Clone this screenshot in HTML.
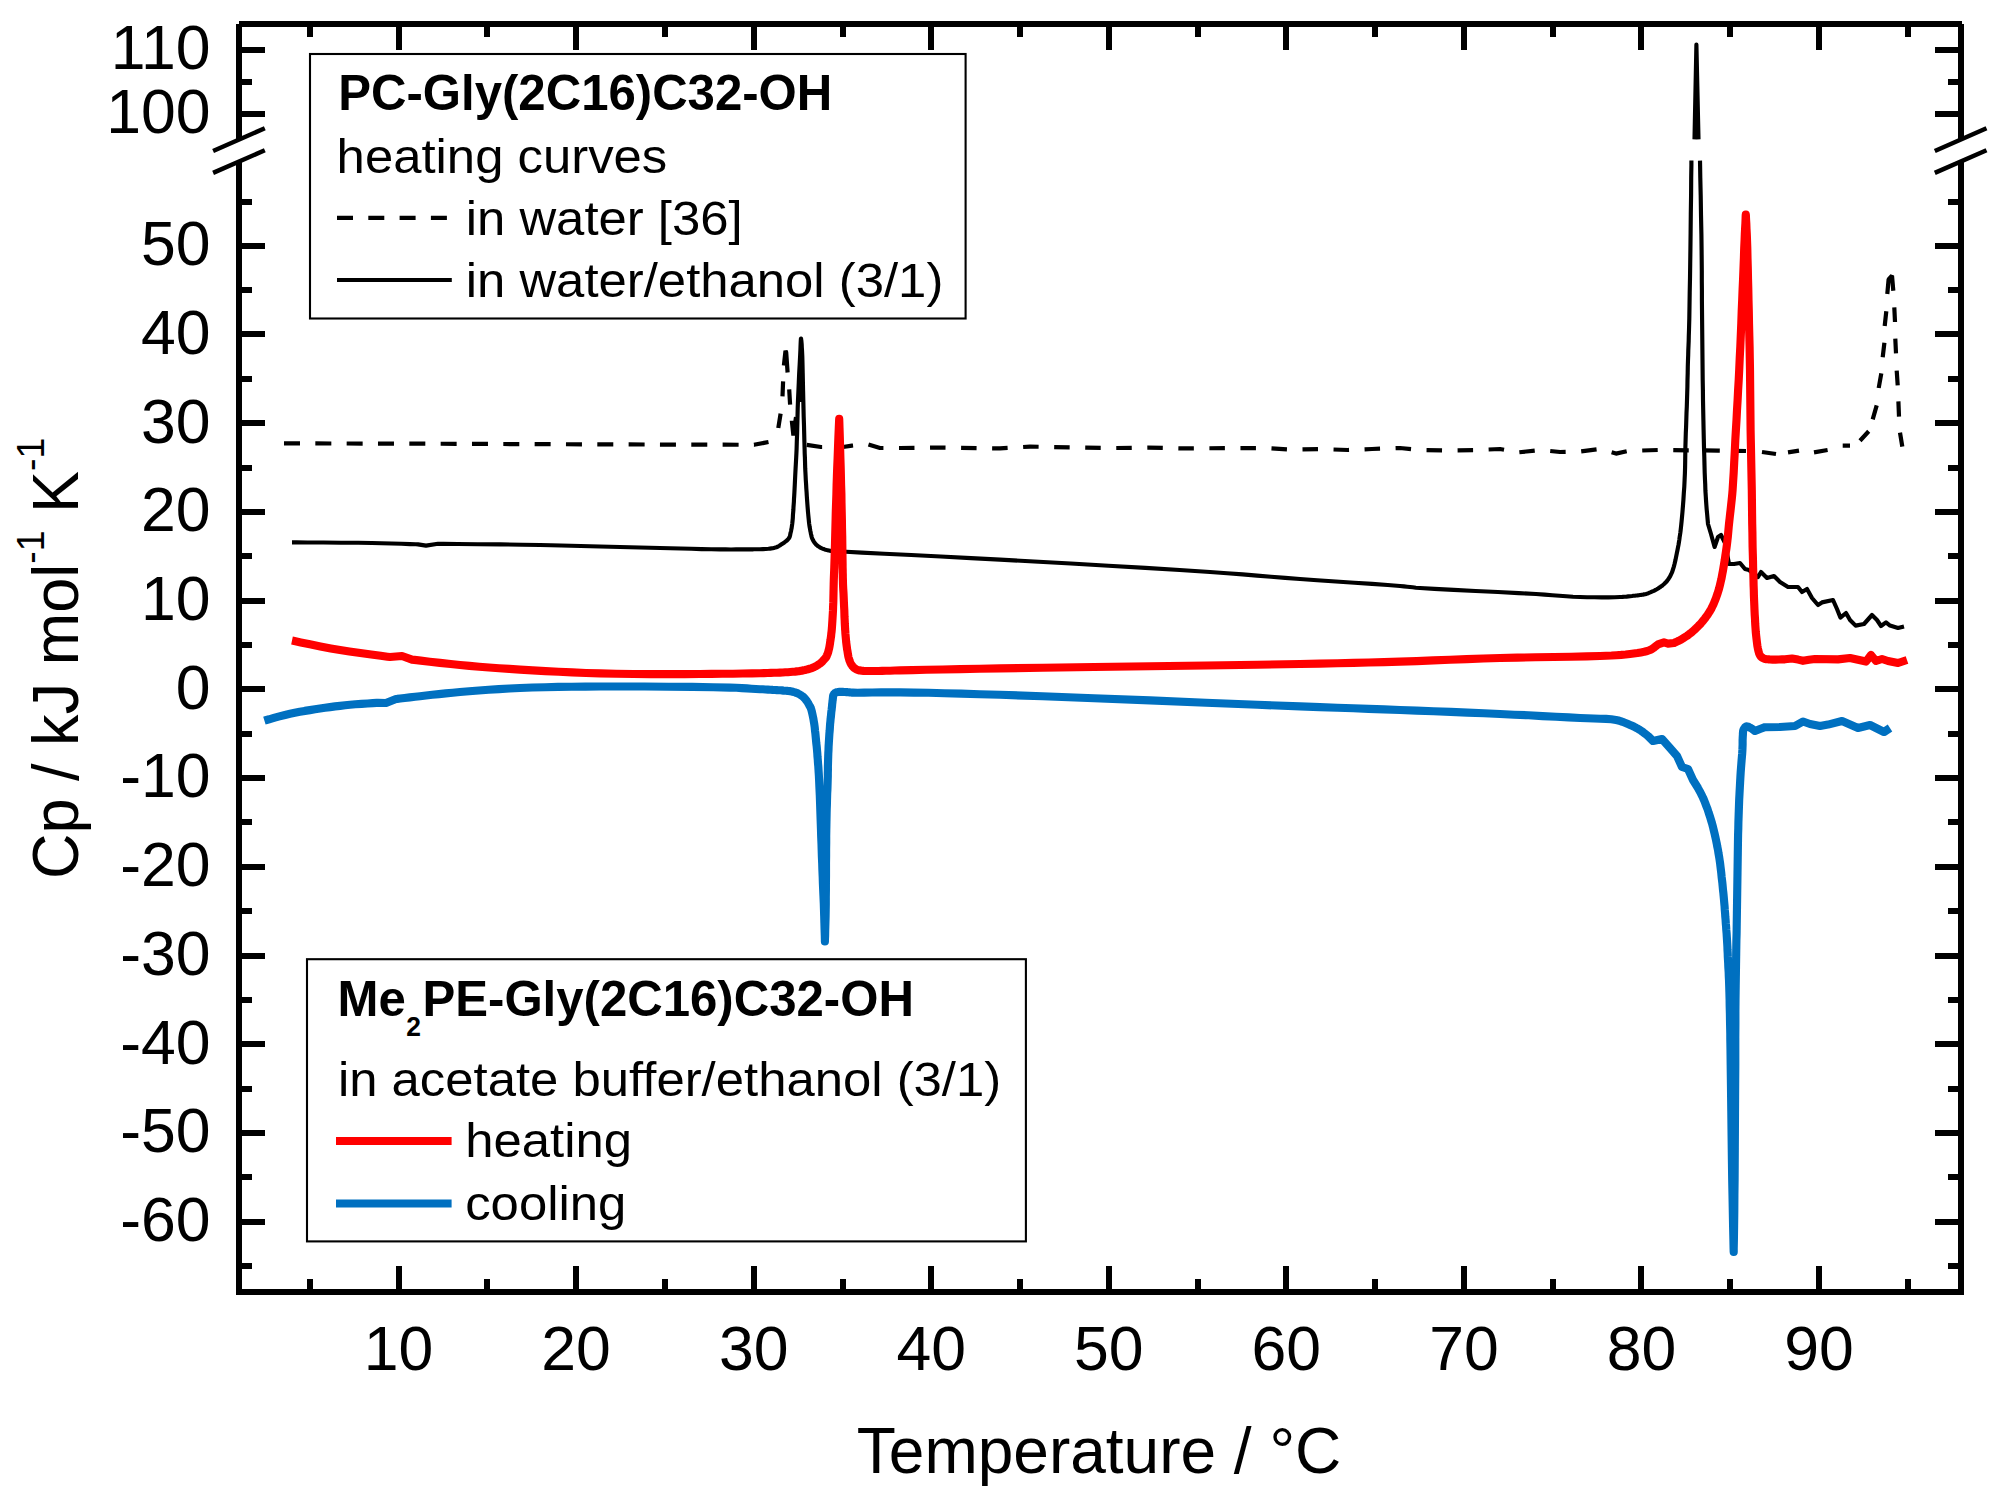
<!DOCTYPE html>
<html><head><meta charset="utf-8"><title>DSC heating and cooling curves</title>
<style>
html,body{margin:0;padding:0;background:#fff}
svg{display:block}
text{font-family:"Liberation Sans",Arial,sans-serif;fill:#000}
.tk{font-size:63.4px}
.lg{font-size:48.9px}
.b{font-weight:bold;font-size:50.2px}
</style></head><body>
<svg width="1998" height="1500" viewBox="0 0 1998 1500">
<rect width="1998" height="1500" fill="#fff"/>
<g fill="none" stroke-linejoin="round" stroke-linecap="butt">
<polyline points="284.0,443.4 400.0,443.6 600.0,444.4 754.0,444.8 768.5,442.0" stroke="#000" stroke-width="4.2" stroke-dasharray="16 15.33"/>
<polyline points="806.8,444.8 821.0,447.0 843.0,447.0 852.0,445.6 867.0,444.0 880.0,448.0 900.0,448.0 940.0,447.6 1000.0,448.4 1030.0,446.6 1086.0,447.6 1116.0,448.0 1148.0,447.6 1180.0,448.4 1264.0,448.0 1290.0,449.6 1320.0,449.0 1348.0,450.0 1372.0,449.0 1400.0,448.0 1420.0,450.0 1450.0,450.4 1476.0,450.0 1500.0,449.0 1518.0,452.4 1540.0,450.0 1560.0,452.0 1580.0,451.5 1600.0,449.0 1616.0,453.6 1628.0,451.0 1658.0,450.0 1718.0,450.6 1746.0,451.0" stroke="#000" stroke-width="4.2" stroke-dasharray="15.5 15.55"/>
<path d="M778.3,428.0 L780.6,413.6 M782.5,396.3 L783.1,381.4 M783.9,365.5 L785.5,350.7 L786.2,352.4 L787.6,372.5 M789.2,389.3 L790.1,404.7 M791.8,420.6 L793.4,435.5 L796.0,417.0 M1762.0,452.0 L1776.0,454.0 M1788.0,452.4 L1799.0,450.6 M1814.0,452.4 L1827.6,450.0 M1842.7,445.7 L1850.0,445.7 M1860.0,440.7 L1868.7,431.3 M1872.7,419.3 L1876.7,405.3 M1878.7,388.0 L1881.3,373.3 M1882.7,357.3 L1884.4,342.7 M1884.7,326.0 L1886.3,311.3 M1887.3,294.0 L1888.6,279.5 L1892.0,275.6 L1893.3,290.7 M1894.3,307.3 L1895.0,322.0 M1895.3,338.7 L1896.0,353.3 M1896.7,370.7 L1897.7,385.3 M1898.4,401.3 L1899.0,416.7 M1900.0,432.7 L1902.3,446.7" stroke="#000" stroke-width="4.2" stroke-linejoin="bevel"/>
<polyline points="292.0,542.4 296.3,542.4 307.6,542.5 323.4,542.5 341.0,542.7 358.1,542.8 372.0,543.0 381.5,543.2 391.7,543.5 401.5,543.8 409.9,544.1 415.8,544.3 418.0,544.4 426.0,545.6 438.0,543.8 443.5,543.9 457.9,544.0 477.9,544.2 500.4,544.4 522.2,544.7 540.0,545.0 550.9,545.2 561.2,545.5 571.0,545.7 580.6,546.0 590.2,546.2 600.0,546.5 610.0,546.8 620.0,547.0 630.0,547.3 640.0,547.5 650.0,547.8 660.0,548.0 670.2,548.3 680.8,548.5 691.3,548.8 701.5,549.1 711.2,549.3 720.0,549.4 725.7,549.4 731.0,549.5 736.1,549.4 740.9,549.4 745.5,549.4 750.0,549.3 753.4,549.3 756.7,549.2 760.0,549.2 763.0,549.1 765.8,549.0 768.4,548.8 770.0,548.6 771.4,548.4 772.7,548.2 774.0,547.9 775.2,547.6 776.4,547.2 777.4,546.8 778.4,546.3 779.3,545.8 780.2,545.2 781.1,544.6 782.0,544.0 783.2,543.2 784.4,542.4 785.7,541.4 786.9,540.5 787.9,539.5 788.8,538.4 789.4,537.4 789.8,536.4 790.1,535.3 790.3,534.2 790.5,533.1 790.8,532.0 791.1,530.7 791.3,529.5 791.6,528.2 791.8,526.8 792.0,525.4 792.2,524.0 792.4,522.2 792.6,520.2 792.8,518.3 792.9,516.2 793.0,514.1 793.2,512.0 793.4,509.5 793.5,507.0 793.7,504.3 793.9,501.7 794.0,498.9 794.2,496.0 794.4,492.3 794.6,488.3 794.8,484.3 795.0,480.1 795.2,476.0 795.4,472.0 795.6,468.2 795.8,464.6 796.0,461.0 796.2,457.3 796.4,453.3 796.6,449.0 796.8,441.9 797.1,434.0 797.3,425.7 797.5,417.0 797.7,408.4 798.0,400.0 798.4,391.3 798.8,382.1 799.2,372.8 799.7,364.1 800.1,356.3 800.4,350.0 800.5,347.3 800.6,344.7 800.7,342.3 800.8,340.3 800.9,339.0 801.0,338.5 801.1,339.0 801.3,340.3 801.5,342.3 801.7,344.7 801.8,347.3 802.0,350.0 802.3,356.3 802.5,364.1 802.7,372.8 802.9,382.1 803.1,391.3 803.3,400.0 803.5,408.4 803.7,417.0 804.0,425.7 804.2,434.0 804.4,441.9 804.6,449.0 804.7,453.3 804.9,457.3 805.0,461.0 805.1,464.6 805.2,468.2 805.4,472.0 805.6,476.0 805.8,480.1 806.1,484.3 806.3,488.3 806.6,492.3 806.8,496.0 807.0,498.9 807.2,501.7 807.4,504.3 807.6,507.0 807.8,509.5 808.0,512.0 808.2,514.1 808.4,516.2 808.6,518.3 808.8,520.2 809.0,522.2 809.2,524.0 809.4,525.4 809.6,526.8 809.9,528.2 810.1,529.5 810.3,530.7 810.6,532.0 810.8,533.1 811.0,534.2 811.3,535.3 811.5,536.4 811.8,537.4 812.2,538.4 812.6,539.4 813.1,540.4 813.7,541.4 814.3,542.3 814.9,543.2 815.6,544.0 816.3,544.7 817.0,545.4 817.8,546.0 818.7,546.6 819.5,547.1 820.4,547.6 821.4,548.1 822.5,548.6 823.6,549.0 824.7,549.4 825.7,549.7 826.8,550.0 827.7,550.2 828.5,550.4 829.3,550.6 830.1,550.7 831.0,550.9 832.0,551.0 833.8,551.2 835.6,551.3 837.6,551.4 840.0,551.5 842.7,551.6 846.0,551.8 861.8,552.6 884.2,553.7 911.2,555.0 940.8,556.5 971.0,558.1 1000.0,559.6 1034.1,561.5 1070.8,563.5 1108.5,565.7 1145.3,567.9 1179.7,570.0 1210.0,572.0 1227.1,573.2 1242.6,574.4 1257.1,575.6 1271.0,576.7 1285.2,577.9 1300.0,579.0 1317.2,580.2 1335.8,581.5 1354.4,582.7 1372.1,583.9 1387.7,585.0 1400.0,586.0 1404.0,586.4 1407.2,586.7 1409.9,587.0 1412.7,587.3 1415.9,587.7 1420.0,588.0 1434.4,588.9 1453.6,589.9 1475.5,591.0 1497.9,592.0 1518.7,593.1 1536.0,594.0 1544.6,594.6 1552.3,595.2 1559.4,595.7 1566.3,596.2 1573.0,596.7 1580.0,597.0 1587.0,597.2 1594.3,597.3 1601.6,597.3 1608.5,597.3 1614.7,597.2 1620.0,597.0 1622.4,596.9 1624.6,596.7 1626.6,596.6 1628.4,596.4 1630.2,596.2 1632.0,596.0 1633.4,595.8 1634.8,595.7 1636.2,595.5 1637.5,595.4 1638.8,595.2 1640.0,595.0 1641.0,594.9 1642.1,594.7 1643.0,594.6 1644.0,594.4 1645.0,594.3 1646.0,594.0 1647.2,593.6 1648.4,593.2 1649.6,592.7 1650.8,592.2 1651.9,591.7 1653.0,591.2 1653.9,590.8 1654.7,590.4 1655.6,589.9 1656.4,589.5 1657.2,589.0 1658.0,588.5 1658.9,587.9 1659.9,587.3 1660.8,586.6 1661.7,586.0 1662.6,585.3 1663.5,584.5 1664.4,583.7 1665.3,582.8 1666.1,582.0 1667.0,581.0 1667.7,580.1 1668.5,579.0 1669.3,577.7 1670.1,576.4 1670.8,574.9 1671.5,573.4 1672.2,571.8 1672.8,570.0 1673.7,567.1 1674.6,563.8 1675.4,560.3 1676.1,556.8 1676.8,553.3 1677.5,550.0 1678.0,547.4 1678.5,544.9 1678.9,542.4 1679.3,540.0 1679.6,537.5 1680.0,535.0 1680.4,532.3 1680.7,529.7 1681.0,527.0 1681.3,524.2 1681.6,521.2 1681.9,518.0 1682.4,512.6 1682.9,506.5 1683.4,500.0 1683.8,493.3 1684.3,486.6 1684.6,480.0 1684.9,473.4 1685.1,466.7 1685.2,460.1 1685.3,453.4 1685.4,446.7 1685.6,440.0 1685.8,433.3 1686.1,426.7 1686.3,420.0 1686.5,413.3 1686.8,406.7 1687.0,400.0 1687.2,393.3 1687.4,386.5 1687.5,379.6 1687.7,372.9 1687.8,366.3 1688.0,360.0 1688.2,354.9 1688.3,350.2 1688.5,345.6 1688.7,340.9 1688.8,335.8 1689.0,330.0 1689.3,318.9 1689.5,306.3 1689.7,292.7 1690.0,278.4 1690.2,264.0 1690.4,250.0 1690.6,233.3 1690.8,213.9 1691.1,194.4 1691.2,177.3 1691.4,165.2 1691.4,160.6" stroke="#000" stroke-width="4.15"/>
<path d="M800.6,402 L801,341" stroke="#000" stroke-width="3"/>
<polyline points="1700.0,160.6 1700.1,165.4 1700.3,177.8 1700.7,195.2 1701.0,214.9 1701.4,234.1 1701.6,250.0 1701.7,260.7 1701.8,270.9 1701.8,280.7 1701.9,290.4 1701.9,300.1 1702.0,310.0 1702.1,320.0 1702.2,330.0 1702.3,340.0 1702.4,350.0 1702.5,360.0 1702.6,370.0 1702.7,380.1 1702.9,390.2 1703.0,400.3 1703.2,410.4 1703.4,420.3 1703.6,430.0 1703.8,438.9 1704.0,447.8 1704.3,456.7 1704.5,465.2 1704.7,473.0 1705.0,480.0 1705.2,483.8 1705.3,487.3 1705.4,490.5 1705.6,493.5 1705.8,496.7 1706.0,500.0 1706.3,504.4 1706.7,509.6 1707.2,514.9 1707.6,519.5 1707.9,522.8 1708.0,524.0 1711.0,534.0 1714.6,547.0 1718.0,537.0 1721.0,535.0 1725.0,543.0 1729.0,564.0 1734.0,564.0 1740.0,563.0 1745.0,569.0 1749.0,570.0 1758.0,577.0 1761.0,572.0 1767.0,578.0 1774.0,576.0 1780.0,582.0 1788.0,587.0 1798.0,587.0 1802.0,592.0 1807.0,589.0 1812.0,598.0 1818.0,605.0 1822.0,602.4 1833.0,600.0 1837.0,609.0 1840.4,617.6 1846.0,613.0 1850.0,620.0 1855.6,625.6 1864.0,624.0 1872.0,615.0 1877.0,620.0 1881.0,626.0 1886.0,622.4 1890.0,625.6 1898.0,628.0 1904.0,626.4" stroke="#000" stroke-width="4.15"/>
<polyline points="1694.5,139.4 1696.4,44.6 1698.5,139.4" stroke="#000" stroke-width="4.15" stroke-linejoin="round"/>
<polyline points="292.0,640.6 294.4,641.1 300.8,642.4 309.9,644.3 320.4,646.4 330.8,648.4 340.0,650.0 349.4,651.5 360.3,653.0 371.2,654.5 380.7,655.8 387.4,656.7 390.0,657.0 402.0,656.0 412.0,659.6 414.4,659.9 420.7,660.6 429.7,661.7 440.0,662.9 450.6,664.0 460.0,665.0 469.5,665.9 479.2,666.7 489.0,667.5 499.1,668.2 509.4,668.9 520.0,669.6 532.6,670.4 545.5,671.1 558.7,671.8 572.2,672.4 586.0,673.0 600.0,673.4 616.3,673.7 633.4,674.0 650.9,674.1 668.1,674.1 684.7,674.1 700.0,674.0 711.3,673.9 722.3,673.8 733.0,673.7 742.9,673.5 752.0,673.4 760.0,673.2 764.0,673.1 767.6,673.0 770.9,672.9 773.9,672.8 777.0,672.7 780.0,672.6 782.7,672.5 785.3,672.3 787.8,672.2 790.3,672.0 792.7,671.8 795.0,671.6 796.8,671.4 798.5,671.2 800.2,670.9 801.8,670.7 803.4,670.3 805.0,670.0 806.5,669.6 808.0,669.2 809.5,668.8 810.9,668.4 812.4,667.9 813.7,667.3 814.9,666.7 816.1,666.1 817.2,665.4 818.3,664.7 819.3,664.0 820.3,663.3 821.1,662.7 821.8,662.0 822.5,661.3 823.1,660.6 823.7,659.9 824.3,659.3 824.7,658.8 825.1,658.4 825.5,658.0 825.8,657.5 826.2,657.1 826.5,656.5 826.9,655.6 827.3,654.6 827.7,653.5 828.1,652.4 828.4,651.2 828.7,650.0 829.1,648.5 829.4,646.9 829.7,645.2 830.0,643.5 830.2,641.8 830.5,640.0 830.8,637.9 831.1,635.8 831.3,633.6 831.6,631.4 831.8,629.1 832.0,626.7 832.2,623.6 832.4,620.4 832.6,617.1 832.8,613.7 833.0,610.2 833.1,606.7 833.3,602.4 833.4,597.8 833.5,593.2 833.6,588.5 833.7,584.1 833.8,580.0 833.9,577.2 834.0,574.7 834.1,572.2 834.2,569.8 834.3,567.1 834.4,564.0 834.6,558.0 834.8,551.1 835.0,543.6 835.2,535.7 835.4,527.8 835.6,520.0 835.8,511.6 836.1,502.9 836.4,494.2 836.6,485.4 836.9,476.6 837.2,468.0 837.6,458.6 838.0,447.9 838.4,437.2 838.8,427.9 839.1,421.3 839.2,418.8 839.3,421.3 839.5,427.9 839.8,437.2 840.1,447.9 840.4,458.6 840.7,468.0 840.9,476.6 841.1,485.4 841.4,494.2 841.5,502.9 841.7,511.6 841.9,520.0 842.0,527.8 842.2,535.7 842.3,543.6 842.4,551.1 842.5,558.0 842.6,564.0 842.6,567.1 842.7,569.8 842.7,572.2 842.8,574.7 842.8,577.2 842.9,580.0 843.0,584.1 843.2,588.5 843.5,593.2 843.7,597.8 843.9,602.4 844.1,606.7 844.3,610.2 844.4,613.7 844.5,617.1 844.7,620.4 844.8,623.6 845.0,626.7 845.1,629.1 845.3,631.3 845.4,633.5 845.6,635.7 845.8,637.8 846.0,640.0 846.2,642.3 846.5,644.6 846.8,646.9 847.1,649.2 847.5,651.3 847.8,653.3 848.0,654.6 848.2,655.7 848.4,656.8 848.7,657.9 849.0,658.9 849.3,660.0 849.7,661.1 850.1,662.1 850.6,663.2 851.1,664.2 851.7,665.1 852.3,666.0 852.9,666.7 853.5,667.3 854.1,667.9 854.8,668.4 855.6,668.9 856.3,669.3 857.1,669.7 857.9,670.0 858.8,670.2 859.7,670.4 860.6,670.5 861.7,670.7 863.5,670.9 865.5,671.0 867.7,671.0 870.0,671.0 872.5,671.0 875.0,671.0 878.5,671.0 882.1,670.9 886.0,670.8 890.1,670.7 894.8,670.5 900.0,670.4 912.2,670.1 926.4,669.8 942.5,669.5 960.2,669.1 979.5,668.8 1000.0,668.4 1042.6,667.7 1094.0,667.0 1150.0,666.3 1206.0,665.5 1257.4,664.7 1300.0,664.0 1319.8,663.6 1337.3,663.2 1353.4,662.9 1368.7,662.5 1384.0,662.1 1400.0,661.6 1416.7,661.1 1433.3,660.4 1450.0,659.8 1466.7,659.1 1483.3,658.5 1500.0,658.0 1517.3,657.6 1535.5,657.3 1553.7,657.0 1571.0,656.8 1586.7,656.4 1600.0,656.0 1606.1,655.7 1611.5,655.5 1616.5,655.2 1621.1,654.9 1625.6,654.5 1630.0,654.0 1633.7,653.5 1637.4,653.0 1640.9,652.4 1644.2,651.8 1647.3,651.0 1650.0,650.0 1651.8,649.1 1653.6,647.9 1655.3,646.6 1656.7,645.5 1657.6,644.7 1658.0,644.4 1664.0,642.4 1668.0,643.6 1674.0,643.0 1674.4,642.8 1675.5,642.3 1677.0,641.6 1678.7,640.8 1680.5,639.9 1682.0,639.0 1683.6,638.0 1685.3,636.9 1687.0,635.8 1688.7,634.6 1690.4,633.3 1692.0,632.0 1693.7,630.5 1695.5,628.9 1697.2,627.2 1698.8,625.5 1700.5,623.8 1702.0,622.0 1703.5,620.3 1704.9,618.5 1706.2,616.7 1707.6,614.8 1708.8,612.9 1710.0,611.0 1711.2,608.9 1712.2,606.8 1713.3,604.7 1714.2,602.5 1715.1,600.2 1716.0,598.0 1716.8,595.7 1717.6,593.4 1718.3,591.1 1719.0,588.8 1719.6,586.4 1720.2,584.0 1720.8,581.4 1721.4,578.9 1721.9,576.3 1722.4,573.6 1722.9,570.9 1723.4,568.0 1724.0,564.3 1724.7,560.3 1725.3,556.2 1725.9,552.0 1726.5,547.9 1727.0,544.0 1727.4,540.5 1727.8,537.1 1728.1,533.8 1728.4,530.4 1728.7,527.2 1729.0,524.0 1729.3,521.2 1729.6,518.6 1729.9,515.9 1730.2,513.3 1730.5,510.7 1730.8,508.0 1731.1,505.2 1731.4,502.5 1731.7,499.7 1732.0,496.8 1732.3,493.6 1732.6,490.0 1733.1,482.0 1733.7,472.6 1734.2,462.2 1734.8,451.3 1735.3,440.4 1735.9,430.0 1736.5,420.1 1737.0,410.2 1737.6,400.3 1738.1,390.3 1738.7,380.3 1739.2,370.0 1739.7,358.6 1740.3,346.9 1740.8,335.0 1741.3,323.1 1741.7,311.4 1742.2,300.0 1742.6,289.4 1743.1,278.7 1743.5,268.1 1743.9,258.0 1744.2,248.5 1744.6,240.0 1744.8,234.5 1745.1,228.8 1745.4,223.4 1745.6,218.8 1745.7,215.7 1745.8,214.5 1745.9,215.7 1746.0,218.8 1746.3,223.4 1746.5,228.8 1746.8,234.5 1747.0,240.0 1747.3,248.5 1747.5,258.0 1747.8,268.1 1748.0,278.7 1748.3,289.4 1748.5,300.0 1748.8,311.4 1749.0,323.1 1749.3,335.0 1749.6,346.9 1749.8,358.6 1750.0,370.0 1750.1,380.3 1750.2,390.3 1750.3,400.3 1750.4,410.2 1750.5,420.1 1750.6,430.0 1750.8,440.1 1751.0,450.2 1751.2,460.3 1751.4,470.4 1751.6,480.3 1751.8,490.0 1751.9,498.7 1752.0,507.2 1752.1,515.6 1752.2,523.9 1752.4,532.0 1752.5,540.0 1752.6,547.0 1752.8,553.9 1753.0,560.6 1753.1,567.3 1753.3,573.7 1753.5,580.0 1753.6,585.3 1753.8,590.4 1753.9,595.4 1754.1,600.3 1754.3,605.2 1754.5,610.0 1754.7,614.5 1755.0,619.1 1755.2,623.6 1755.5,628.0 1755.8,632.2 1756.2,636.0 1756.5,638.7 1756.8,641.2 1757.1,643.7 1757.4,645.9 1757.8,648.1 1758.2,650.0 1758.5,651.2 1758.8,652.3 1759.1,653.4 1759.5,654.3 1759.9,655.2 1760.4,656.0 1760.9,656.6 1761.4,657.1 1762.0,657.5 1762.6,657.9 1763.3,658.3 1764.0,658.6 1764.9,658.9 1765.8,659.1 1766.7,659.2 1767.7,659.3 1768.8,659.4 1770.0,659.5 1772.5,659.6 1775.6,659.6 1778.9,659.5 1782.0,659.4 1784.2,659.3 1785.0,659.3 1792.0,658.5 1798.0,659.6 1803.0,660.8 1809.0,659.8 1815.0,659.0 1838.0,659.4 1850.0,658.0 1866.0,661.6 1871.0,655.0 1876.0,661.0 1882.0,659.0 1888.0,661.0 1898.0,663.0 1907.0,660.0" stroke="#ff0000" stroke-width="8.15"/>
<polyline points="264.4,720.6 265.7,720.2 269.1,719.3 273.9,717.9 279.4,716.4 285.0,715.0 290.0,713.8 294.8,712.8 299.8,711.8 304.8,710.9 309.9,710.1 315.0,709.3 320.0,708.5 325.0,707.8 330.0,707.1 335.1,706.4 340.1,705.9 345.1,705.3 350.0,704.8 355.4,704.3 361.5,703.9 367.6,703.5 372.8,703.1 376.6,702.9 378.0,702.8 386.0,703.0 396.0,699.0 397.2,698.9 400.2,698.5 404.6,698.0 409.8,697.4 415.1,696.8 420.0,696.2 426.0,695.5 432.3,694.8 438.9,694.1 445.7,693.4 452.7,692.7 460.0,692.0 469.2,691.2 478.8,690.5 488.7,689.8 498.9,689.1 509.4,688.5 520.0,688.0 532.4,687.5 545.1,687.2 558.1,686.9 571.5,686.7 585.4,686.6 600.0,686.5 620.9,686.5 644.4,686.5 668.7,686.7 692.3,686.9 713.3,687.2 730.0,687.6 736.3,687.8 741.9,688.1 747.0,688.4 751.5,688.7 755.8,689.0 760.0,689.2 762.8,689.3 765.5,689.5 768.0,689.6 770.4,689.7 772.7,689.9 775.0,690.0 776.8,690.1 778.6,690.2 780.3,690.3 781.9,690.4 783.5,690.6 785.0,690.7 786.2,690.8 787.3,690.9 788.4,691.0 789.5,691.1 790.6,691.3 791.7,691.5 792.8,691.8 794.0,692.1 795.1,692.4 796.2,692.8 797.3,693.2 798.3,693.7 799.2,694.1 800.0,694.6 800.8,695.1 801.5,695.6 802.3,696.1 803.0,696.7 803.7,697.4 804.5,698.1 805.1,698.9 805.8,699.7 806.4,700.5 807.0,701.3 807.5,702.0 807.9,702.7 808.2,703.3 808.6,704.0 809.0,704.7 809.3,705.3 809.6,705.8 809.9,706.3 810.1,706.7 810.4,707.2 810.6,707.7 810.9,708.4 811.4,710.0 811.9,711.9 812.4,714.1 812.9,716.5 813.4,718.9 813.8,721.3 814.3,724.2 814.7,727.2 815.0,730.4 815.4,733.6 815.7,736.8 816.0,740.0 816.3,743.3 816.7,746.6 817.0,750.0 817.3,753.3 817.5,756.7 817.8,760.0 818.0,763.2 818.3,766.3 818.5,769.4 818.7,772.7 818.9,776.1 819.1,780.0 819.4,787.1 819.8,795.2 820.1,803.9 820.4,812.9 820.7,821.7 821.0,830.0 821.2,836.9 821.5,843.7 821.7,850.3 821.9,856.8 822.2,863.4 822.4,870.0 822.7,876.7 822.9,883.5 823.2,890.3 823.5,897.0 823.8,903.6 824.0,910.0 824.2,916.2 824.4,923.1 824.6,929.9 824.8,935.8 824.9,939.9 824.9,941.5 824.9,939.9 825.1,935.8 825.2,929.9 825.4,923.1 825.6,916.2 825.7,910.0 825.8,903.6 825.8,897.0 825.9,890.3 825.9,883.5 826.0,876.7 826.0,870.0 826.0,863.3 826.1,856.5 826.1,849.6 826.2,842.9 826.2,836.3 826.3,830.0 826.4,824.7 826.5,819.5 826.6,814.4 826.7,809.4 826.9,804.6 827.0,800.0 827.1,796.4 827.2,793.0 827.4,789.7 827.5,786.5 827.6,783.3 827.7,780.0 827.8,776.7 827.8,773.3 827.9,770.0 827.9,766.7 828.0,763.3 828.1,760.0 828.2,756.7 828.3,753.3 828.5,750.0 828.6,746.6 828.8,743.3 829.0,740.0 829.2,736.8 829.4,733.6 829.7,730.4 829.9,727.3 830.1,724.2 830.4,721.3 830.6,718.9 830.9,716.6 831.1,714.3 831.3,712.1 831.6,710.0 831.8,708.0 832.0,706.5 832.1,705.1 832.2,703.8 832.4,702.5 832.5,701.2 832.7,700.0 832.8,699.0 832.9,698.0 833.0,697.0 833.1,696.1 833.3,695.3 833.6,694.6 833.9,694.2 834.2,693.8 834.5,693.4 834.9,693.1 835.3,692.8 835.7,692.6 836.1,692.4 836.5,692.3 836.9,692.2 837.3,692.1 837.8,692.1 838.3,692.0 839.3,691.9 840.4,691.9 841.6,691.9 842.8,691.9 843.9,692.0 845.0,692.0 845.7,692.0 846.4,692.1 847.1,692.1 847.7,692.2 848.3,692.2 849.0,692.3 849.6,692.4 850.2,692.4 850.7,692.5 851.3,692.5 852.1,692.6 853.0,692.6 857.6,692.7 864.2,692.6 872.2,692.5 881.1,692.4 890.6,692.4 900.0,692.4 913.9,692.6 928.6,692.8 944.3,693.2 961.3,693.6 979.8,694.2 1000.0,694.8 1042.6,696.3 1094.0,698.2 1150.0,700.4 1206.0,702.7 1257.4,704.8 1300.0,706.4 1319.8,707.1 1337.3,707.8 1353.3,708.3 1368.7,708.9 1384.0,709.4 1400.0,710.0 1416.8,710.6 1433.7,711.3 1450.7,711.9 1467.5,712.6 1484.0,713.3 1500.0,714.0 1514.2,714.7 1528.5,715.3 1542.5,716.1 1556.0,716.7 1568.6,717.4 1580.0,718.0 1587.1,718.3 1593.8,718.5 1600.1,718.7 1606.0,718.9 1611.3,719.3 1616.0,720.0 1618.4,720.5 1620.5,721.1 1622.5,721.8 1624.3,722.5 1626.1,723.2 1628.0,724.0 1630.1,724.9 1632.1,725.8 1634.2,726.8 1636.2,727.9 1638.2,728.9 1640.0,730.0 1641.6,731.1 1643.4,732.4 1645.1,733.7 1646.6,734.9 1647.6,735.7 1648.0,736.0 1653.0,741.0 1662.0,739.0 1670.0,748.0 1677.0,756.0 1682.0,767.0 1688.0,769.0 1693.0,780.0 1698.0,788.0 1698.3,788.6 1699.1,790.1 1700.3,792.3 1701.6,794.9 1702.9,797.5 1704.0,800.0 1705.2,803.0 1706.4,806.3 1707.7,809.6 1708.8,813.1 1710.0,816.6 1711.0,820.0 1712.0,823.3 1712.9,826.6 1713.7,830.0 1714.5,833.3 1715.3,836.7 1716.0,840.0 1716.7,843.3 1717.3,846.7 1718.0,850.0 1718.5,853.3 1719.1,856.7 1719.6,860.0 1720.1,863.3 1720.5,866.7 1720.9,870.0 1721.3,873.3 1721.6,876.7 1722.0,880.0 1722.4,883.3 1722.7,886.7 1723.0,890.0 1723.4,893.3 1723.7,896.7 1724.0,900.0 1724.3,903.3 1724.6,906.7 1724.8,910.0 1725.1,913.3 1725.3,916.7 1725.6,920.0 1725.8,923.3 1726.1,926.7 1726.3,930.0 1726.6,933.3 1726.8,936.7 1727.0,940.0 1727.2,943.3 1727.4,946.7 1727.5,950.0 1727.7,953.3 1727.8,956.7 1728.0,960.0 1728.2,963.3 1728.3,966.4 1728.5,969.6 1728.7,972.8 1728.8,976.3 1729.0,980.0 1729.2,985.9 1729.4,992.5 1729.6,999.5 1729.7,1006.6 1729.9,1013.5 1730.0,1020.0 1730.1,1025.0 1730.2,1029.5 1730.3,1034.0 1730.3,1038.6 1730.4,1043.8 1730.5,1050.0 1730.7,1066.8 1731.0,1088.0 1731.3,1111.7 1731.6,1136.1 1731.9,1159.5 1732.2,1180.0 1732.5,1194.9 1732.8,1210.9 1733.1,1226.3 1733.4,1239.4 1733.6,1248.6 1733.7,1252.0 1733.7,1248.5 1733.9,1239.1 1734.1,1225.7 1734.3,1210.2 1734.4,1194.3 1734.6,1180.0 1734.7,1164.2 1734.8,1147.5 1734.9,1130.3 1735.0,1113.1 1735.1,1096.2 1735.2,1080.0 1735.3,1065.8 1735.3,1051.7 1735.3,1037.7 1735.4,1024.3 1735.4,1011.6 1735.5,1000.0 1735.6,992.5 1735.7,985.6 1735.8,979.1 1735.9,972.8 1736.0,966.5 1736.1,960.0 1736.2,953.3 1736.3,946.7 1736.4,940.0 1736.6,933.3 1736.7,926.7 1736.8,920.0 1736.9,913.3 1737.0,906.7 1737.1,900.0 1737.2,893.3 1737.3,886.7 1737.4,880.0 1737.5,873.3 1737.6,866.6 1737.7,859.8 1737.8,853.1 1737.9,846.5 1738.0,840.0 1738.1,834.0 1738.3,828.1 1738.4,822.3 1738.6,816.5 1738.8,810.7 1739.0,805.0 1739.2,799.4 1739.5,793.7 1739.8,788.0 1740.1,782.5 1740.4,777.1 1740.7,772.0 1741.0,768.0 1741.3,764.2 1741.6,760.4 1741.9,756.8 1742.2,753.3 1742.4,750.0 1742.5,747.4 1742.6,744.9 1742.6,742.5 1742.6,740.2 1742.7,738.0 1742.8,736.0 1742.9,734.7 1742.9,733.5 1743.0,732.4 1743.1,731.4 1743.3,730.4 1743.6,729.5 1744.0,728.8 1744.4,728.2 1744.9,727.5 1745.4,727.0 1745.9,726.6 1746.5,726.4 1747.0,726.4 1747.6,726.5 1748.2,726.7 1748.8,727.0 1749.4,727.3 1750.0,727.6 1750.9,728.1 1752.0,728.8 1753.1,729.6 1754.1,730.3 1754.7,730.8 1755.0,731.0 1760.0,729.0 1765.0,727.2 1780.0,727.0 1795.0,726.0 1803.0,721.5 1810.0,724.0 1820.0,726.0 1828.0,724.6 1842.0,721.0 1858.0,728.0 1870.0,725.0 1884.0,732.0 1890.0,728.0" stroke="#0070c0" stroke-width="8.15"/>
</g>
<g stroke="#000" stroke-width="6" fill="none" shape-rendering="crispEdges">
<path d="M239.0,23.8 H1961.7"/>
<path d="M236.0,1291.8 H1963.7"/>
<path d="M239.0,23.8 V1291.8"/>
<path d="M1960.7,23.8 V1291.8"/>
<path d="M309.8,23.8 v13.0 M309.8,1291.8 v-13.0 M398.6,23.8 v26.0 M398.6,1291.8 v-26.0 M487.4,23.8 v13.0 M487.4,1291.8 v-13.0 M576.1,23.8 v26.0 M576.1,1291.8 v-26.0 M664.9,23.8 v13.0 M664.9,1291.8 v-13.0 M753.7,23.8 v26.0 M753.7,1291.8 v-26.0 M842.5,23.8 v13.0 M842.5,1291.8 v-13.0 M931.2,23.8 v26.0 M931.2,1291.8 v-26.0 M1020.0,23.8 v13.0 M1020.0,1291.8 v-13.0 M1108.8,23.8 v26.0 M1108.8,1291.8 v-26.0 M1197.6,23.8 v13.0 M1197.6,1291.8 v-13.0 M1286.3,23.8 v26.0 M1286.3,1291.8 v-26.0 M1375.1,23.8 v13.0 M1375.1,1291.8 v-13.0 M1463.9,23.8 v26.0 M1463.9,1291.8 v-26.0 M1552.7,23.8 v13.0 M1552.7,1291.8 v-13.0 M1641.4,23.8 v26.0 M1641.4,1291.8 v-26.0 M1730.2,23.8 v13.0 M1730.2,1291.8 v-13.0 M1819.0,23.8 v26.0 M1819.0,1291.8 v-26.0 M1907.8,23.8 v13.0 M1907.8,1291.8 v-13.0 M239.0,1266.0 h13.0 M1960.7,1266.0 h-13.0 M239.0,1221.6 h26.0 M1960.7,1221.6 h-26.0 M239.0,1177.3 h13.0 M1960.7,1177.3 h-13.0 M239.0,1132.9 h26.0 M1960.7,1132.9 h-26.0 M239.0,1088.5 h13.0 M1960.7,1088.5 h-13.0 M239.0,1044.2 h26.0 M1960.7,1044.2 h-26.0 M239.0,999.8 h13.0 M1960.7,999.8 h-13.0 M239.0,955.5 h26.0 M1960.7,955.5 h-26.0 M239.0,911.1 h13.0 M1960.7,911.1 h-13.0 M239.0,866.7 h26.0 M1960.7,866.7 h-26.0 M239.0,822.4 h13.0 M1960.7,822.4 h-13.0 M239.0,778.0 h26.0 M1960.7,778.0 h-26.0 M239.0,733.7 h13.0 M1960.7,733.7 h-13.0 M239.0,689.3 h26.0 M1960.7,689.3 h-26.0 M239.0,644.9 h13.0 M1960.7,644.9 h-13.0 M239.0,600.6 h26.0 M1960.7,600.6 h-26.0 M239.0,556.2 h13.0 M1960.7,556.2 h-13.0 M239.0,511.9 h26.0 M1960.7,511.9 h-26.0 M239.0,467.5 h13.0 M1960.7,467.5 h-13.0 M239.0,423.1 h26.0 M1960.7,423.1 h-26.0 M239.0,378.8 h13.0 M1960.7,378.8 h-13.0 M239.0,334.4 h26.0 M1960.7,334.4 h-26.0 M239.0,290.1 h13.0 M1960.7,290.1 h-13.0 M239.0,245.7 h26.0 M1960.7,245.7 h-26.0 M239.0,202.0 h13.0 M1960.7,202.0 h-13.0 M239.0,49.8 h26.0 M1960.7,49.8 h-26.0 M239.0,81.8 h13.0 M1960.7,81.8 h-13.0 M239.0,113.8 h26.0 M1960.7,113.8 h-26.0"/>
</g>
<polygon points="211.1,151.0 266.8,128.3 266.8,150.3 211.1,172.9" fill="#fff"/>
<path d="M213.1,151.0 L264.8,128.3 M213.1,172.9 L264.8,150.3" stroke="#000" stroke-width="4.5" fill="none"/>
<polygon points="1932.8,151.0 1988.5,128.3 1988.5,150.3 1932.8,172.9" fill="#fff"/>
<path d="M1934.8,151.0 L1986.5,128.3 M1934.8,172.9 L1986.5,150.3" stroke="#000" stroke-width="4.5" fill="none"/>
<text class="tk" transform="translate(210.5,1241.0) scale(0.986,1)" text-anchor="end">-60</text>
<text class="tk" transform="translate(210.5,1152.3) scale(0.986,1)" text-anchor="end">-50</text>
<text class="tk" transform="translate(210.5,1063.6) scale(0.986,1)" text-anchor="end">-40</text>
<text class="tk" transform="translate(210.5,974.9) scale(0.986,1)" text-anchor="end">-30</text>
<text class="tk" transform="translate(210.5,886.1) scale(0.986,1)" text-anchor="end">-20</text>
<text class="tk" transform="translate(210.5,797.4) scale(0.986,1)" text-anchor="end">-10</text>
<text class="tk" transform="translate(210.5,708.7) scale(0.986,1)" text-anchor="end">0</text>
<text class="tk" transform="translate(210.5,620.0) scale(0.986,1)" text-anchor="end">10</text>
<text class="tk" transform="translate(210.5,531.3) scale(0.986,1)" text-anchor="end">20</text>
<text class="tk" transform="translate(210.5,442.5) scale(0.986,1)" text-anchor="end">30</text>
<text class="tk" transform="translate(210.5,353.8) scale(0.986,1)" text-anchor="end">40</text>
<text class="tk" transform="translate(210.5,265.1) scale(0.986,1)" text-anchor="end">50</text>
<text class="tk" transform="translate(210.5,69.2) scale(0.986,1)" text-anchor="end">110</text>
<text class="tk" transform="translate(210.5,133.2) scale(0.986,1)" text-anchor="end">100</text>
<text class="tk" transform="translate(398.6,1370) scale(0.986,1)" text-anchor="middle">10</text>
<text class="tk" transform="translate(576.1,1370) scale(0.986,1)" text-anchor="middle">20</text>
<text class="tk" transform="translate(753.7,1370) scale(0.986,1)" text-anchor="middle">30</text>
<text class="tk" transform="translate(931.2,1370) scale(0.986,1)" text-anchor="middle">40</text>
<text class="tk" transform="translate(1108.8,1370) scale(0.986,1)" text-anchor="middle">50</text>
<text class="tk" transform="translate(1286.3,1370) scale(0.986,1)" text-anchor="middle">60</text>
<text class="tk" transform="translate(1463.9,1370) scale(0.986,1)" text-anchor="middle">70</text>
<text class="tk" transform="translate(1641.4,1370) scale(0.986,1)" text-anchor="middle">80</text>
<text class="tk" transform="translate(1819.0,1370) scale(0.986,1)" text-anchor="middle">90</text>
<text transform="translate(1099,1473.3)" font-size="64" text-anchor="middle">Temperature / °C</text>
<text transform="translate(78,879) rotate(-90) scale(0.985,1)" font-size="64">Cp / kJ mol<tspan font-size="38" dy="-34">-1</tspan><tspan dy="34"> K</tspan><tspan font-size="38" dy="-34">-1</tspan></text>
<rect x="310" y="54" width="655.6" height="264.5" fill="#fff" stroke="#000" stroke-width="2.1"/>
<text class="lg b" transform="translate(338.2,109.6) scale(0.9789741035856572,1)">PC-Gly(2C16)C32-OH</text>
<text class="lg" transform="translate(336.6,172.5) scale(1.04,1)">heating curves</text>
<path d="M337,217.8 H451" stroke="#000" stroke-width="4.2" stroke-dasharray="16 15.3" fill="none"/>
<text class="lg" transform="translate(465.7,234.6) scale(1.04,1)">in water [36]</text>
<path d="M337,280 H451.8" stroke="#000" stroke-width="4.15" fill="none"/>
<text class="lg" transform="translate(465.7,297) scale(1.04,1)">in water/ethanol (3/1)</text>
<rect x="307" y="959.2" width="718.9" height="282.2" fill="#fff" stroke="#000" stroke-width="2.1"/>
<text class="lg b" transform="translate(337.6,1016) scale(0.9789741035856572,1)">Me<tspan font-size="27" dy="19.6" dx="0.5">2</tspan><tspan dy="-19.6" dx="1.5">PE-Gly(2C16)C32-OH</tspan></text>
<text class="lg" transform="translate(337.9,1096) scale(1.04,1)">in acetate buffer/ethanol (3/1)</text>
<path d="M336,1141 H451.6" stroke="#ff0000" stroke-width="8" fill="none"/>
<text class="lg" transform="translate(465.2,1157.4) scale(1.04,1)">heating</text>
<path d="M336,1203.6 H451.6" stroke="#0070c0" stroke-width="8" fill="none"/>
<text class="lg" transform="translate(465.2,1220) scale(1.04,1)">cooling</text>
</svg></body></html>
